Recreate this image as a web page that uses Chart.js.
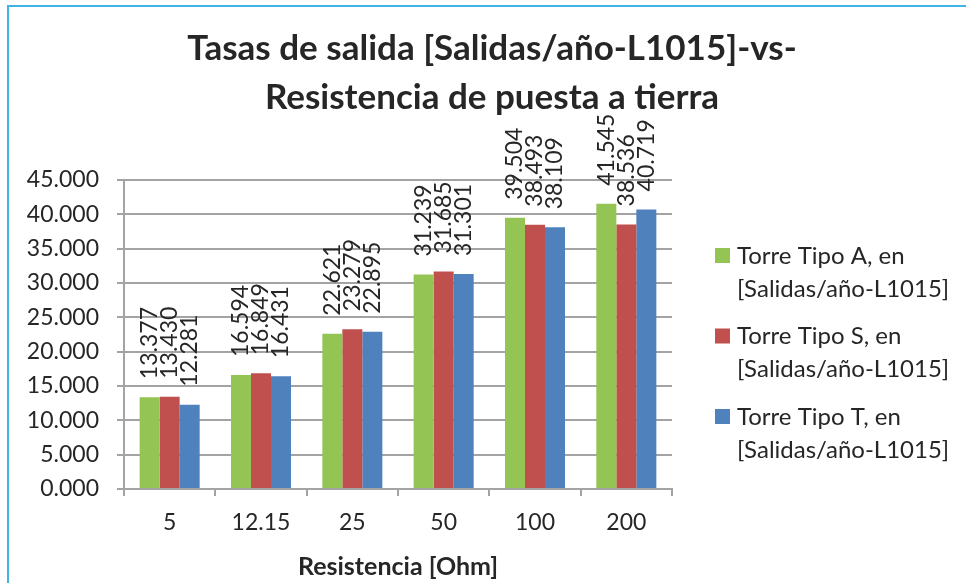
<!DOCTYPE html>
<html>
<head>
<meta charset="utf-8">
<script src="https://cdn.jsdelivr.net/npm/chart.js@4.4.1/dist/chart.umd.min.js"></script>
<style>
  html, body { margin: 0; padding: 0; background: #ffffff; }
  #wrap { width: 966px; height: 583px; position: relative; }
</style>
</head>
<body>
<div id="wrap"><canvas id="chart" width="966" height="583"></canvas></div>
<script>
// Resistencia de puesta a tierra [Ohm]
const categories = ['5', '12.15', '25', '50', '100', '200'];

// Tasas de salida por tipo de torre [Salidas/año-L1015]
const torreTipoA = [13.377, 16.594, 22.621, 31.239, 39.504, 41.545];
const torreTipoS = [13.430, 16.849, 23.279, 31.685, 38.493, 38.536];
const torreTipoT = [12.281, 16.431, 22.895, 31.301, 38.109, 40.719];

const seriesNames = [
  ['Torre Tipo A, en', '[Salidas/año-L1015]'],
  ['Torre Tipo S, en', '[Salidas/año-L1015]'],
  ['Torre Tipo T, en', '[Salidas/año-L1015]']
];

const titleLines = ['Tasas de salida [Salidas/año-L1015]-vs-', 'Resistencia de puesta a tierra'];

const yMin = 0, yMax = 45, yStep = 5;

const FONT = 'Lato, "Open Sans", sans-serif';
const TEXT = '#262626';
const GRID = '#a3a3a3';
const COLORS = ['#93c454', '#c0504d', '#4f81bd'];

// White page, light-blue frame and the two-line heading
const frameAndTitle = {
  id: 'frameAndTitle',
  beforeDraw(chart) {
    const ctx = chart.ctx;
    ctx.save();
    ctx.fillStyle = '#ffffff';
    ctx.fillRect(0, 0, chart.width, chart.height);
    ctx.strokeStyle = '#41b4e6';
    ctx.lineWidth = 2;
    ctx.beginPath();
    ctx.moveTo(8, chart.height + 5);
    ctx.lineTo(8, 6);
    ctx.lineTo(chart.width + 5, 6);
    ctx.stroke();

    ctx.fillStyle = TEXT;
    ctx.font = 'bold 35px ' + FONT;
    ctx.textAlign = 'center';
    ctx.textBaseline = 'middle';
    ctx.fillText(titleLines[0], 492, 49);
    ctx.fillText(titleLines[1], 492, 98);
    ctx.restore();
  }
};

// Vertical value labels above each bar
const barValueLabels = {
  id: 'barValueLabels',
  afterDatasetsDraw(chart) {
    const ctx = chart.ctx;
    ctx.save();
    ctx.font = '23px ' + FONT;
    ctx.fillStyle = TEXT;
    ctx.textAlign = 'left';
    ctx.textBaseline = 'middle';
    chart.data.datasets.forEach((ds, i) => {
      chart.getDatasetMeta(i).data.forEach((bar, j) => {
        ctx.save();
        ctx.translate(bar.x, bar.y - 18);
        ctx.rotate(-Math.PI / 2);
        ctx.fillText(ds.data[j].toFixed(3), 0, 0);
        ctx.restore();
      });
    });
    ctx.restore();
  }
};

// Two-line legend on the right side
const sideLegend = {
  id: 'sideLegend',
  afterDraw(chart) {
    const ctx = chart.ctx;
    const x0 = chart.chartArea.right + 43;
    const firstY = 256, entryGap = 80.5, lineGap = 33;
    ctx.save();
    ctx.font = '24px ' + FONT;
    ctx.textBaseline = 'middle';
    ctx.textAlign = 'left';
    chart.data.datasets.forEach((ds, i) => {
      const y = firstY + i * entryGap;
      ctx.fillStyle = ds.backgroundColor;
      ctx.fillRect(x0, y - 8, 15, 15);
      ctx.fillStyle = TEXT;
      ds.label.forEach((line, k) => ctx.fillText(line, x0 + 22, y + k * lineGap));
    });
    ctx.restore();
  }
};

new Chart(document.getElementById('chart'), {
  type: 'bar',
  data: {
    labels: categories,
    datasets: [
      { label: seriesNames[0], data: torreTipoA, backgroundColor: COLORS[0] },
      { label: seriesNames[1], data: torreTipoS, backgroundColor: COLORS[1] },
      { label: seriesNames[2], data: torreTipoT, backgroundColor: COLORS[2] }
    ]
  },
  options: {
    responsive: false,
    animation: false,
    devicePixelRatio: 1,
    layout: { padding: { left: 26, right: 294, top: 180, bottom: 0 } },
    datasets: { bar: { categoryPercentage: 0.657, barPercentage: 1.0 } },
    plugins: {
      legend: { display: false },
      tooltip: { enabled: false },
      title: { display: false }
    },
    scales: {
      x: {
        afterFit(scale) { scale.height = 94; },
        grid: { display: true, drawOnChartArea: false, drawTicks: true, tickLength: 7, color: GRID, lineWidth: 2 },
        border: { display: true, color: GRID, width: 2 },
        ticks: { color: TEXT, padding: 13, font: { family: FONT, size: 23 } },
        title: {
          display: true,
          text: 'Resistencia [Ohm]',
          color: TEXT,
          font: { family: FONT, size: 25, weight: 'bold', lineHeight: 1.2 },
          padding: { top: 4, bottom: 1 }
        }
      },
      y: {
        min: yMin,
        max: yMax,
        afterFit(scale) { scale.width = 98; },
        grid: { color: GRID, lineWidth: 2, tickLength: 7 },
        border: { display: true, color: GRID, width: 2 },
        ticks: {
          stepSize: yStep,
          color: TEXT,
          padding: 18,
          font: { family: FONT, size: 23 },
          callback: v => Number(v).toFixed(3)
        }
      }
    }
  },
  plugins: [frameAndTitle, barValueLabels, sideLegend]
});
</script>
</body>
</html>
